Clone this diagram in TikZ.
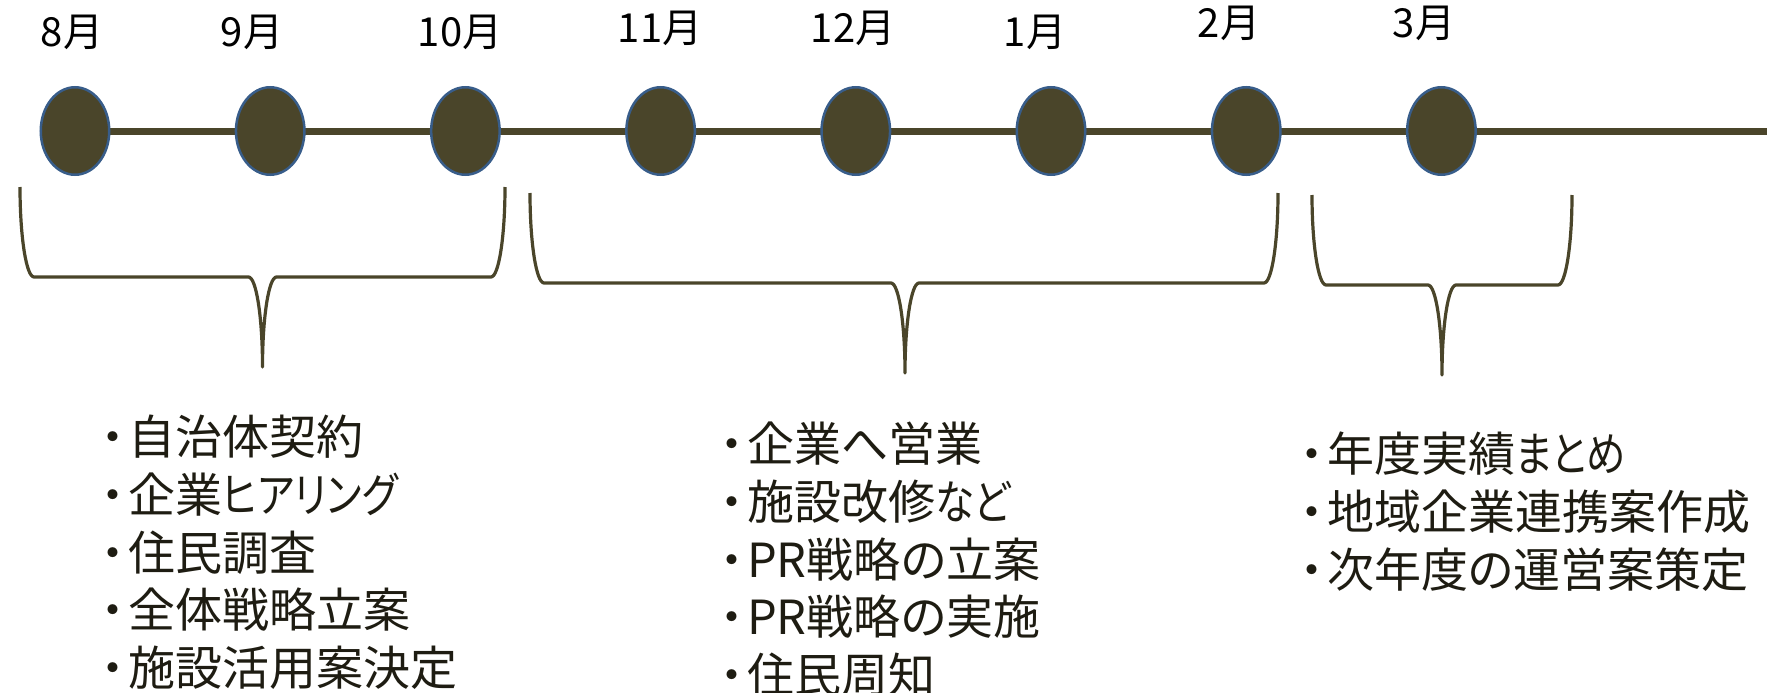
\documentclass[tikz,border=0pt]{standalone}
\usepackage{fontspec}
\usepackage{graphicx}
\setmainfont{Noto Sans CJK JP}
\newfontfamily\jpalt[RawFeature=+palt]{Noto Sans CJK JP}
\usetikzlibrary{shapes.geometric,backgrounds}
\definecolor{tlolive}{HTML}{4A452A}
\definecolor{tlblue}{HTML}{385D8A}
\definecolor{tltext}{HTML}{1E1C12}
\newcommand\bul{{\rmfamily ・}\kern-8pt}
\newcommand\kn[1]{\scalebox{0.84}[1]{#1}}
\newcommand\tlbrace[4]{% left, center, right, top
  \draw[bracket] (#1,#4) arc[start angle=180,end angle=90,x radius=14,y radius=90]
    -- ({#2-14},{#4+90}) arc[start angle=270,end angle=360,x radius=14,y radius=90]
    arc[start angle=180,end angle=270,x radius=14,y radius=90]
    -- ({#3-14},{#4+90}) arc[start angle=90,end angle=0,x radius=14,y radius=90];}
\begin{document}
\begin{tikzpicture}[x=1pt,y=-1pt,
  mdot/.style={ellipse, draw=tlblue, line width=2.5pt, fill=tlolive,
    minimum width=68.5pt, minimum height=87.5pt, inner sep=0pt},
  mlabel/.style={font=\fontsize{40}{48}\selectfont, inner sep=0pt, text=black},
  tline/.style={draw=tlolive, line width=7pt},
  bracket/.style={draw=tlolive, line width=3.2pt, line join=round},
  itemblock/.style={font=\jpalt\fontsize{47}{57.7}\selectfont, align=left,
    anchor=north west, inner sep=0pt, text=tltext}]
\useasboundingbox (0,0) rectangle (1767,693);
% month dots
\node[mdot] (c1) at (75,131) {};
\node[mdot] (c2) at (270.2,131) {};
\node[mdot] (c3) at (465.4,131) {};
\node[mdot] (c4) at (660.6,131) {};
\node[mdot] (c5) at (855.8,131) {};
\node[mdot] (c6) at (1051,131) {};
\node[mdot] (c7) at (1246.2,131) {};
\node[mdot] (c8) at (1441.4,131) {};
\coordinate (lineend) at (1775,131);
\begin{pgfonlayer}{background}
\draw[tline] (c1.center) -- (lineend);
\end{pgfonlayer}
% month labels
\node[mlabel] (m1) at (72,32) {8月};
\node[mlabel] (m2) at (252,32) {9月};
\node[mlabel] (m3) at (460,32) {10月};
\node[mlabel] (m4) at (660,28) {11月};
\node[mlabel] (m5) at (853,28) {12月};
\node[mlabel] (m6) at (1035,32) {1月};
\node[mlabel] (m7) at (1229,23) {2月};
\node[mlabel] (m8) at (1424,23) {3月};
% braces
\tlbrace{20}{262.5}{505}{187}
\tlbrace{530}{905}{1278}{193}
\tlbrace{1312}{1442}{1572}{195}
% task lists
\node[itemblock] (b1) at (89,415) {\bul 自治体契約\\\bul 企業\kn{ヒアリング}\\\bul 住民調査\\\bul 全体戦略立案\\\bul 施設活用案決定};
\node[itemblock] (b2) at (708,422) {\bul 企業へ営業\\\bul 施設改修\kn{など}\\\bul PR戦略の立案\\\bul PR戦略の実施\\\bul 住民周知};
\node[itemblock] (b3) at (1288,432) {\bul 年度実績\kn{まとめ}\\\bul 地域企業連携案作成\\\bul 次年度の運営案策定};
\end{tikzpicture}
\end{document}
